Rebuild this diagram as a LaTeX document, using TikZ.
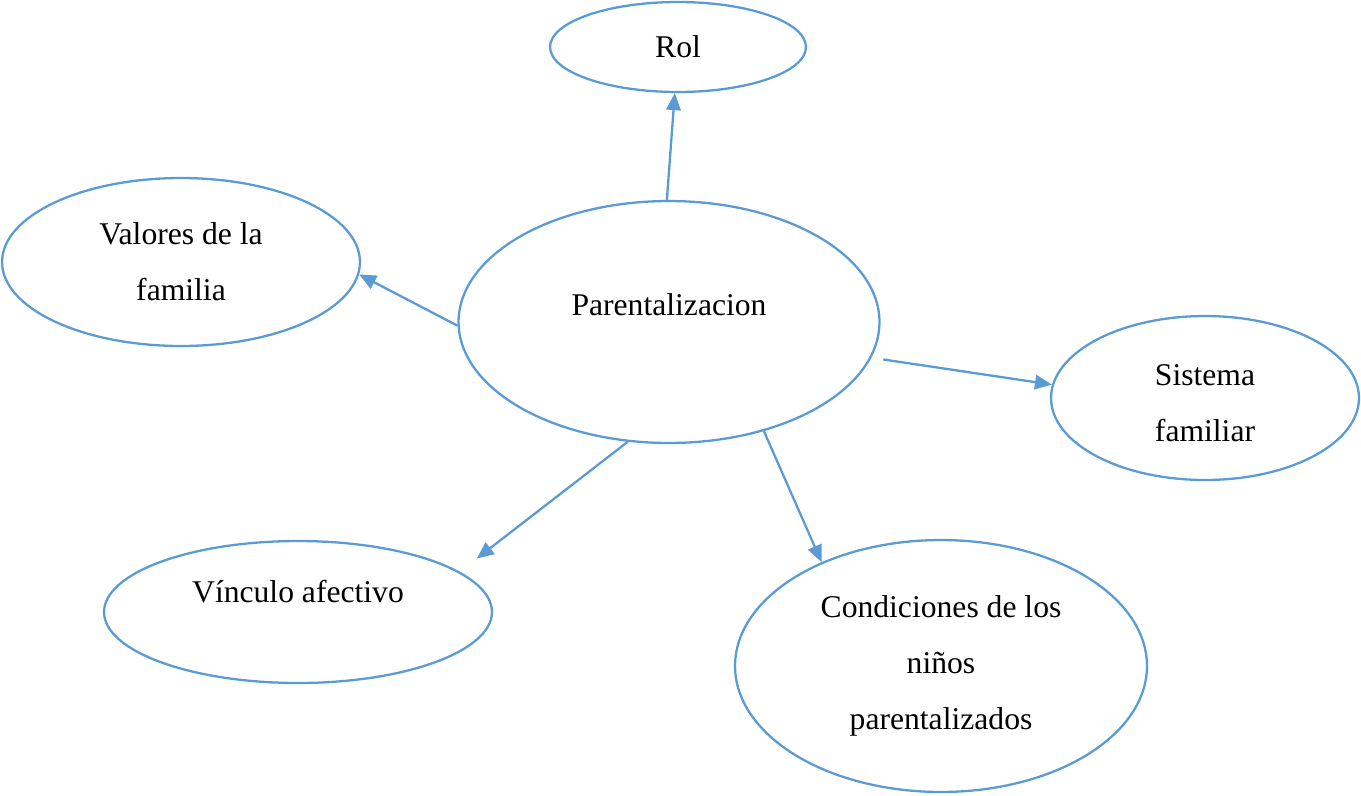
\documentclass[tikz,border=0pt]{standalone}
\usepackage{fontspec}
\setmainfont{Liberation Serif}
\usepackage{tikz}
\usetikzlibrary{shapes,arrows.meta,positioning,calc}
\definecolor{lineblue}{RGB}{91,155,213}

\begin{document}
\begin{tikzpicture}[x=0.02cm, y=-0.02cm,
    bubble/.style={ellipse, draw=lineblue, line width=1.3pt, inner sep=0pt},
    txt/.style={font=\fontsize{18}{32}\selectfont, align=center},
    link/.style={draw=lineblue, line width=1.3pt, -{Triangle[length=0.34cm, width=0.29cm]}}]
    \useasboundingbox (0, 0) rectangle (1361, 795);

    % Center
    \node [bubble, minimum width=8.42cm, minimum height=4.84cm,
        label={[txt, yshift=0.34cm]center:Parentalizacion}] (par) at (669, 322) {};

    % Outer ellipses
    \node [bubble, minimum width=5.12cm, minimum height=1.8cm,
        label={[txt]center:Rol}] (rol) at (678, 47) {};
    \node [bubble, minimum width=7.16cm, minimum height=3.36cm,
        label={[txt]center:Valores de la\\familia}] (val) at (181, 262) {};
    \node [bubble, minimum width=6.16cm, minimum height=3.28cm,
        label={[txt, yshift=-0.1cm]center:Sistema\\familiar}] (sis) at (1205, 398) {};
    \node [bubble, minimum width=7.76cm, minimum height=2.84cm,
        label={[txt, yshift=0.4cm]center:Vínculo afectivo}] (vin) at (298, 612) {};
    \node [bubble, minimum width=8.24cm, minimum height=5.04cm,
        label={[txt]center:Condiciones de los\\niños\\parentalizados}] (con) at (941, 666) {};

    % Arrows
    \draw [link] (par.91.9) -- (rol.266.3);
    \draw [link] (par.181.6) -- (val.-4.5);
    \draw [link, shorten <=0.24cm] (par.-10.4) -- (sis.175.2);
    \draw [link, shorten >=0.43cm] (par.251.9) -- (vin.14.3);
    \draw [link] (par.-49.8) -- (con.139);
\end{tikzpicture}
\end{document}
